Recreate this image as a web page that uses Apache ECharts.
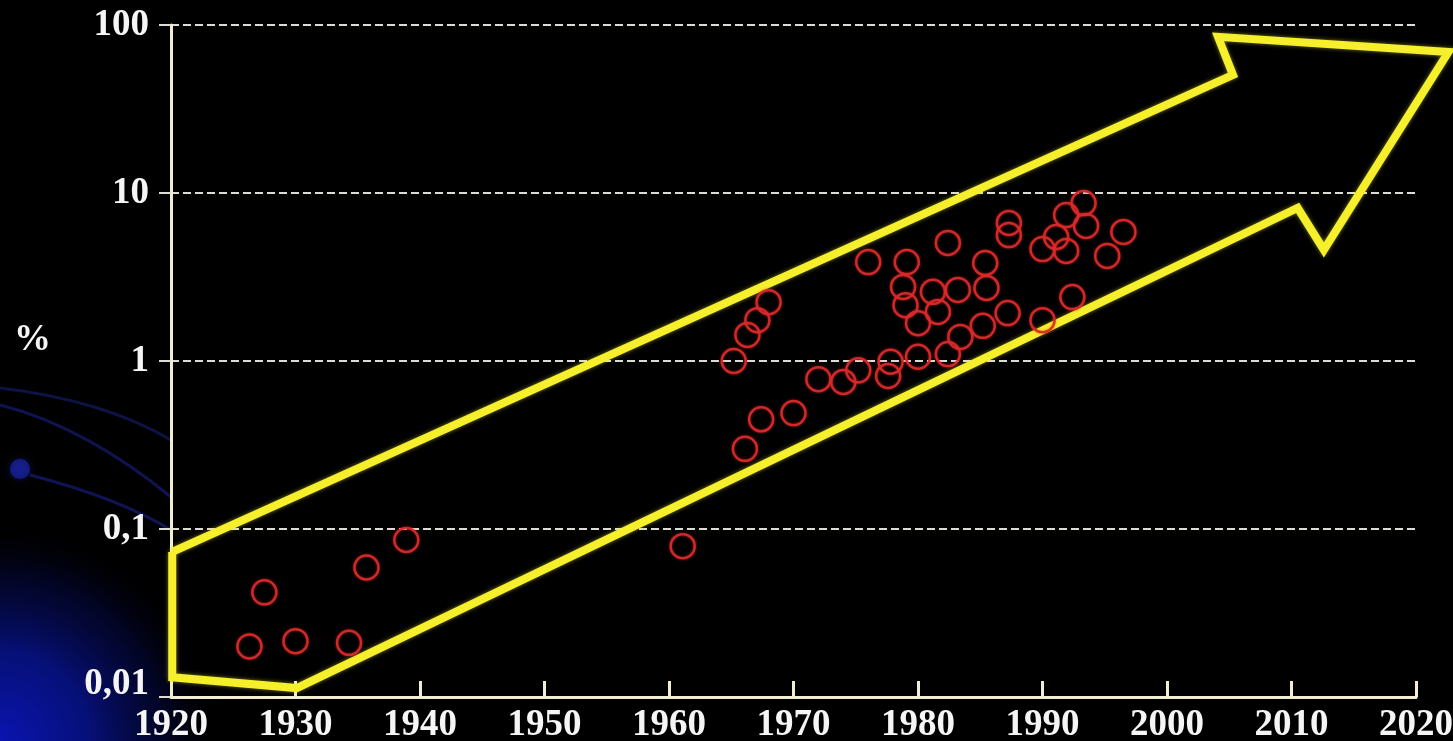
<!DOCTYPE html>
<html>
<head>
<meta charset="utf-8">
<script src="https://cdn.jsdelivr.net/npm/echarts@6/dist/echarts.min.js"></script>
<style>
  html, body { margin: 0; padding: 0; background: #000; }
  #chart { width: 1453px; height: 741px; }
</style>
</head>
<body>
<div id="chart"></div>
<script>
// Year ticks along the bottom axis
const yearTicks = [1920, 1930, 1940, 1950, 1960, 1970, 1980, 1990, 2000, 2010, 2020];
// Percentage ticks on the logarithmic axis (decimal comma)
const percentTicks = ['0,01', '0,1', '1', '10', '100'];

// Observations: year and share in percent
const obsYears = [
  1926.3, 1927.5, 1930.0, 1934.3, 1935.7, 1938.9, 1961.1,
  1965.2, 1966.3, 1967.1, 1968.0, 1966.1, 1967.4, 1970.0,
  1972.0, 1974.0, 1975.2, 1976.0, 1977.6, 1977.8, 1978.8,
  1979.1, 1979.0, 1980.0, 1980.0, 1981.2, 1981.6, 1982.4,
  1982.4, 1983.2, 1983.4, 1985.2, 1985.4, 1985.5, 1987.3,
  1987.3, 1987.2, 1990.0, 1990.0, 1991.1, 1991.9, 1991.9,
  1992.4, 1993.3, 1993.5, 1995.2, 1996.5
];
const obsPercent = [
  0.020, 0.042, 0.0215, 0.021, 0.059, 0.086, 0.079,
  1.00, 1.43, 1.75, 2.24, 0.30, 0.45, 0.49,
  0.78, 0.75, 0.88, 3.88, 0.815, 0.99, 2.76,
  3.88, 2.15, 1.06, 1.68, 2.58, 1.96, 5.04,
  1.10, 2.65, 1.39, 1.62, 3.83, 2.72, 6.63,
  5.62, 1.93, 1.75, 4.64, 5.47, 4.52, 7.39,
  2.40, 8.71, 6.37, 4.22, 5.86
];

// Outline of the trend arrow (closed polygon), in year / percent
const arrowYears   = [1920.1, 1920.1, 1930.1, 2010.5, 2012.6, 2022.6, 2004.1, 2005.3, 1920.1];
const arrowPercent = [0.073, 0.0131, 0.0113, 8.14, 4.58, 69, 85, 50.4, 0.073];

const labelFont = '"Liberation Serif", "Times New Roman", serif';
const axisColor = '#f2eed4';

const chart = echarts.init(document.getElementById('chart'), null, { renderer: 'canvas' });

chart.setOption({
  backgroundColor: '#000000',
  animation: false,
  grid: {
    left: 171, right: 37, top: 25, bottom: 44,
    containLabel: false, outerBoundsMode: 'none'
  },
  graphic: [
    {
      type: 'rect', z: -5, silent: true,
      shape: { x: 0, y: 0, width: 1453, height: 741 },
      style: {
        fill: new echarts.graphic.RadialGradient(0, 1, 0.3, [
          { offset: 0, color: '#0a14b0' },
          { offset: 0.4, color: '#061078' },
          { offset: 0.75, color: 'rgba(3,6,50,0.7)' },
          { offset: 1, color: 'rgba(0,0,0,0)' }
        ])
      }
    },
    {
      type: 'bezierCurve', z: -4, silent: true,
      shape: { x1: 0, y1: 388, x2: 171, y2: 440, cpx1: 60, cpy1: 395, cpx2: 120, cpy2: 410 },
      style: { stroke: 'rgba(30,40,150,0.45)', lineWidth: 3, fill: null }
    },
    {
      type: 'bezierCurve', z: -4, silent: true,
      shape: { x1: 0, y1: 405, x2: 171, y2: 497, cpx1: 60, cpy1: 420, cpx2: 120, cpy2: 455 },
      style: { stroke: 'rgba(30,40,160,0.5)', lineWidth: 3, fill: null }
    },
    {
      type: 'bezierCurve', z: -4, silent: true,
      shape: { x1: 30, y1: 475, x2: 171, y2: 530, cpx1: 80, cpy1: 488, cpx2: 130, cpy2: 505 },
      style: { stroke: 'rgba(30,40,170,0.5)', lineWidth: 3, fill: null }
    },
    {
      type: 'circle', z: -4, silent: true,
      shape: { cx: 20, cy: 469, r: 10 },
      style: { fill: 'rgba(25,35,160,0.7)', shadowBlur: 6, shadowColor: 'rgba(25,35,180,0.7)' }
    },
    {
      type: 'text', left: 14, top: 322, z: 5,
      style: { text: '%', fill: '#f5f5f5', font: 'bold 37px ' + labelFont }
    }
  ],
  xAxis: {
    type: 'value',
    min: yearTicks[0],
    max: yearTicks[yearTicks.length - 1],
    interval: 10,
    axisLine: { show: true, lineStyle: { color: axisColor, width: 3 } },
    axisTick: { show: true, inside: true, length: 16, lineStyle: { color: axisColor, width: 3 } },
    axisLabel: {
      color: '#f5f5f5', fontFamily: labelFont, fontWeight: 'bold', fontSize: 37,
      margin: 10, showMinLabel: true, showMaxLabel: true,
      formatter: function (v) {
        const idx = Math.round((v - yearTicks[0]) / 10);
        return yearTicks[idx] !== undefined ? String(yearTicks[idx]) : '';
      }
    },
    splitLine: { show: false }
  },
  yAxis: {
    type: 'log',
    logBase: 10,
    min: 0.01,
    max: 100,
    axisLine: { show: true, lineStyle: { color: axisColor, width: 3 } },
    axisTick: { show: true, inside: false, length: 12, lineStyle: { color: '#dcdcd4', width: 2 } },
    axisLabel: {
      color: '#f5f5f5', fontFamily: labelFont, fontWeight: 'bold', fontSize: 37, margin: 22,
      formatter: function (v) {
        const idx = Math.round(Math.log10(v)) + 2;
        if (idx === 0) return '{low|' + percentTicks[0] + '}';
        return percentTicks[idx] !== undefined ? percentTicks[idx] : '';
      },
      rich: {
        low: {
          color: '#f5f5f5', fontFamily: labelFont, fontWeight: 'bold', fontSize: 37,
          padding: [0, 0, 26, 0]
        }
      }
    },
    splitLine: {
      show: true,
      lineStyle: { color: '#dcdcd4', width: 2, type: [8, 4] }
    }
  },
  series: [
    {
      type: 'custom',
      name: 'arrow',
      coordinateSystem: 'cartesian2d',
      clip: false,
      silent: true,
      z: 3,
      data: arrowYears.map((y, i) => [y, arrowPercent[i]]),
      renderItem: function (params, api) {
        if (params.dataIndex !== 0) return;
        const pts = arrowYears.map((y, i) => api.coord([y, arrowPercent[i]]));
        return {
          type: 'polyline',
          shape: { points: pts },
          style: {
            stroke: '#f6f02c', lineWidth: 8, fill: null, lineJoin: 'miter',
            shadowBlur: 4, shadowColor: 'rgba(246,240,44,0.5)'
          }
        };
      }
    },
    {
      type: 'scatter',
      name: 'observations',
      z: 4,
      symbol: 'circle',
      symbolSize: 24,
      data: obsYears.map((y, i) => [y, obsPercent[i]]),
      itemStyle: {
        color: 'rgba(0,0,0,0)',
        borderColor: '#d92a2a',
        borderWidth: 2.5,
        opacity: 0.95,
        shadowBlur: 3,
        shadowColor: 'rgba(230,40,40,0.6)'
      }
    }
  ]
});
</script>
</body>
</html>
